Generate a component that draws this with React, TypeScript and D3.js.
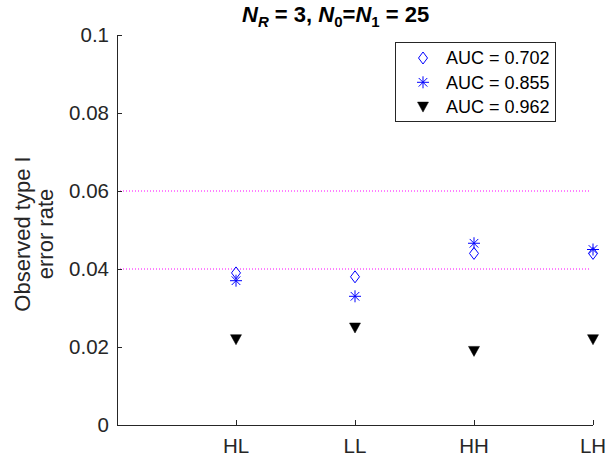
import React from 'react';
import * as d3 from 'd3';

const categories = ['HL', 'LL', 'HH', 'LH'];
const auc702 = [0.039, 0.038, 0.044, 0.044];
const auc855 = [0.037, 0.033, 0.0466, 0.045];
const auc962 = [0.022, 0.025, 0.019, 0.022];
const yTicks = [0, 0.02, 0.04, 0.06, 0.08, 0.1];
const refLines = [0.04, 0.06];
const legendLabels = ['AUC = 0.702', 'AUC = 0.855', 'AUC = 0.962'];

const W = 605;
const H = 459;
const margin = {top: 35, right: 12, bottom: 34, left: 117};
const font = 'Liberation Sans, Arial, Helvetica, sans-serif';

function Diamond({x, y}: {x: number; y: number})
{
    const p = `M${x},${y - 6} L${x + 4.5},${y} L${x},${y + 6} L${x - 4.5},${y} Z`;
    return <path d={p} fill="none" stroke="#0000ff" strokeWidth={1}/>;
}

function Star({x, y}: {x: number; y: number})
{
    const r = 6;
    const d = r * 0.72;
    return (
        <g stroke="#0000ff" strokeWidth={1}>
            <line x1={x - r} y1={y} x2={x + r} y2={y}/>
            <line x1={x} y1={y - r} x2={x} y2={y + r}/>
            <line x1={x - d} y1={y - d} x2={x + d} y2={y + d}/>
            <line x1={x - d} y1={y + d} x2={x + d} y2={y - d}/>
        </g>
    );
}

function TriDown({x, y}: {x: number; y: number})
{
    const p = `M${x - 5.5},${y - 4.5} L${x + 5.5},${y - 4.5} L${x},${y + 5.5} Z`;
    return <path d={p} fill="#000" stroke="#000" strokeWidth={0.5}/>;
}

export default function App()
{
    const x = d3.scaleLinear().domain([0, categories.length]).range([margin.left, W - margin.right]);
    const y = d3.scaleLinear().domain([0, 0.1]).range([H - margin.bottom, margin.top]);
    const x0 = x(0);
    const x1 = x(categories.length);
    const y0 = y(0);

    const legX = 395;
    const legY = 42;
    const rowH = 24.3;

    return (
        <svg width={W} height={H} style={{position: 'absolute', left: 0, top: 0, background: '#fff'}}
             fontFamily={font}>
            <rect x={0} y={0} width={W} height={H} fill="#fff"/>

            {refLines.map((v, i) => (
                <line key={i} x1={x0} x2={x(categories.length) - 3} y1={y(v)} y2={y(v)}
                      stroke="#ff00ff" strokeWidth={1} strokeDasharray="1,2"/>
            ))}

            {/* axes */}
            <line x1={x0 + 0.5} x2={x0 + 0.5} y1={y(0.1)} y2={y0} stroke="#262626"/>
            <line x1={x0} x2={x1} y1={y0 + 0.5} y2={y0 + 0.5} stroke="#262626"/>

            {yTicks.map((t, i) => (
                <g key={i}>
                    <line x1={x0} x2={x0 + 5} y1={Math.round(y(t)) + 0.5} y2={Math.round(y(t)) + 0.5} stroke="#262626"/>
                    <text x={x0 - 8} y={y(t)} dy="0.35em" textAnchor="end" fontSize={20.5} fill="#262626">
                        {d3.format('~g')(t)}
                    </text>
                </g>
            ))}

            {categories.map((c, i) => (
                <g key={c}>
                    <line x1={Math.round(x(i + 1)) + 0.5} x2={Math.round(x(i + 1)) + 0.5} y1={y0} y2={y0 - 5} stroke="#262626"/>
                    <text x={x(i + 1)} y={y0 + 28} textAnchor="middle" fontSize={20.5} fill="#262626">{c}</text>
                </g>
            ))}

            <text transform={`translate(30,${(y(0.1) + y0) / 2 + 4}) rotate(-90)`} textAnchor="middle"
                  fontSize={22} fill="#262626">
                <tspan x={0} dy={0}>Observed type I</tspan>
                <tspan x={0} dy={23}>error rate</tspan>
            </text>

            <text x={242} y={22} textAnchor="start" fontSize={22} fontWeight="bold" fill="#000">
                <tspan fontStyle="italic">N</tspan>
                <tspan fontStyle="italic" fontSize={15} dy={5}>R</tspan>
                <tspan dy={-5}> = 3, </tspan>
                <tspan fontStyle="italic">N</tspan>
                <tspan fontSize={15} dy={5}>0</tspan>
                <tspan dy={-5}>=</tspan>
                <tspan fontStyle="italic">N</tspan>
                <tspan fontSize={15} dy={5}>1</tspan>
                <tspan dy={-5}> = 25</tspan>
            </text>

            {categories.map((c, i) => (
                <g key={'m' + c}>
                    <Diamond x={x(i + 1)} y={y(auc702[i])}/>
                    <Star x={x(i + 1)} y={y(auc855[i])}/>
                    <TriDown x={x(i + 1)} y={y(auc962[i])}/>
                </g>
            ))}

            {/* legend */}
            <rect x={legX + 0.5} y={legY + 0.5} width={160} height={79} fill="#fff" stroke="#262626" strokeWidth={1}/>
            {legendLabels.map((l, i) => {
                const cy = legY + 16 + i * rowH;
                const mx = legX + 28;
                return (
                    <g key={l}>
                        {i === 0 && <Diamond x={mx} y={cy}/>}
                        {i === 1 && <Star x={mx} y={cy}/>}
                        {i === 2 && <TriDown x={mx} y={cy}/>}
                        <text x={legX + 51} y={cy} dy="0.35em" fontSize={18} fill="#000">{l}</text>
                    </g>
                );
            })}
        </svg>
    );
}
